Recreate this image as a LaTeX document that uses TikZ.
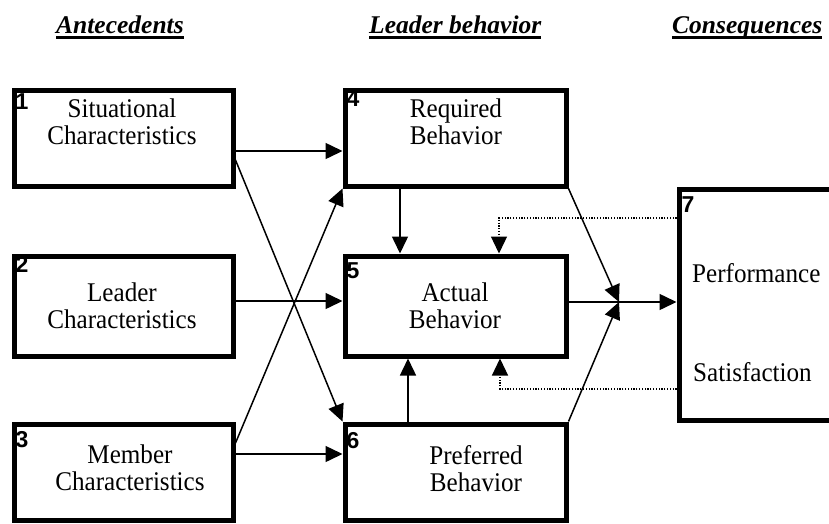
\documentclass[tikz,border=0pt]{standalone}
\usepackage{fontspec}
\setmainfont{Liberation Serif}
\newfontfamily\boxfont[FakeStretch=0.93]{Liberation Serif}
\newfontfamily\numfont{Liberation Sans}
\usetikzlibrary{arrows.meta}
\newcommand\hdrtext[1]{\setbox0\hbox{#1}\rlap{\vrule width\wd0 height -3pt depth 6pt}\box0}
\begin{document}
\begin{tikzpicture}[x=1pt,y=-1pt,
  box/.style={draw, line width=5pt, inner sep=0pt},
  txt/.style={font=\boxfont\fontsize{27}{27}\selectfont, align=center, inner sep=0pt},
  num/.style={font=\numfont\bfseries\fontsize{23}{23}\selectfont, inner sep=0pt, anchor=north west},
  hdr/.style={font=\bfseries\itshape\fontsize{25.5}{26}\selectfont, inner sep=0pt, anchor=base west},
  arr/.style={line width=1.5pt, -{Triangle[length=17pt,width=16pt]}},
  fb/.style={line width=1.3pt, dash pattern=on 1.2pt off 1.6pt, -{Triangle[length=17pt,width=16pt]}}]
\useasboundingbox (0,0) rectangle (829,523);
\clip (0,0) rectangle (829,523);

% headers
\node[hdr] (h1) at (56,33) {\hdrtext{Antecedents}};
\node[hdr] (h2) at (369,33) {\hdrtext{Leader behavior}};
\node[hdr] (h3) at (672,33) {\hdrtext{Consequences}};

% boxes
\node[box, minimum width=219pt, minimum height=96pt] (b1) at (123.5,138) {};
\node[box, minimum width=219pt, minimum height=100pt] (b2) at (123.5,306) {};
\node[box, minimum width=219pt, minimum height=96pt] (b3) at (123.5,472) {};
\node[box, minimum width=221pt, minimum height=96pt] (b4) at (455.5,138) {};
\node[box, minimum width=221pt, minimum height=100pt] (b5) at (455.5,306) {};
\node[box, minimum width=221pt, minimum height=96pt] (b6) at (455.5,472) {};
\node[box, minimum width=221pt, minimum height=231pt] (b7) at (789.5,304.5) {};

% numbers
\node[num] (n1) at ([xshift=4pt,yshift=-6pt]b1.north west) {1};
\node[num] (n2) at ([xshift=4pt,yshift=-3pt]b2.north west) {2};
\node[num] (n3) at ([xshift=4pt,yshift=-10pt]b3.north west) {3};
\node[num] (n4) at ([xshift=4pt,yshift=-3pt]b4.north west) {4};
\node[num] (n5) at ([xshift=4pt,yshift=-9pt]b5.north west) {5};
\node[num] (n6) at ([xshift=4pt,yshift=-11pt]b6.north west) {6};
\node[num] (n7) at ([xshift=5pt,yshift=-10pt]b7.north west) {7};

% texts
\node[txt] (t1) at (122,122) {Situational\\Characteristics};
\node[txt] (t2) at (122,306) {Leader\\Characteristics};
\node[txt] (t3) at (130,468) {Member\\Characteristics};
\node[txt] (t4) at (456,122) {Required\\Behavior};
\node[txt] (t5) at (455,306) {Actual\\Behavior};
\node[txt] (t6) at (476,469) {Preferred\\Behavior};
\node[txt, anchor=base west] (t7a) at (692,282) {Performance};
\node[txt, anchor=base west] (t7b) at (693,381) {Satisfaction};

% connectors
\draw[arr] ([yshift=-13pt]b1.east) -- ([yshift=-13pt]b4.west);
\draw[arr] ([yshift=5pt]b2.east) -- ([yshift=5pt]b5.west);
\draw[arr] ([yshift=18pt]b3.east) -- ([yshift=18pt]b6.west);
\draw[arr] ([yshift=-22pt]b1.east) -- (b6.north west);
\draw[arr] ([yshift=29pt]b3.east) -- (b4.south west);
\draw[arr] ([xshift=-55.5pt]b4.south) -- ([xshift=-55.5pt]b5.north);
\draw[arr] ([xshift=-47.5pt]b6.north) -- ([xshift=-47.5pt]b5.south);

\coordinate (P) at (619,302);
\draw[arr] (b4.south east) -- (P);
\draw[arr] (b6.north east) -- (P);
\draw[arr] ([yshift=4pt]b5.east) -- ([yshift=2.5pt]b7.west);

\draw[fb] ([yshift=86.5pt]b7.west) -| ([xshift=43.5pt]b5.north);
\draw[fb] ([yshift=-84.5pt]b7.west) -| ([xshift=44.5pt]b5.south);
\end{tikzpicture}
\end{document}
